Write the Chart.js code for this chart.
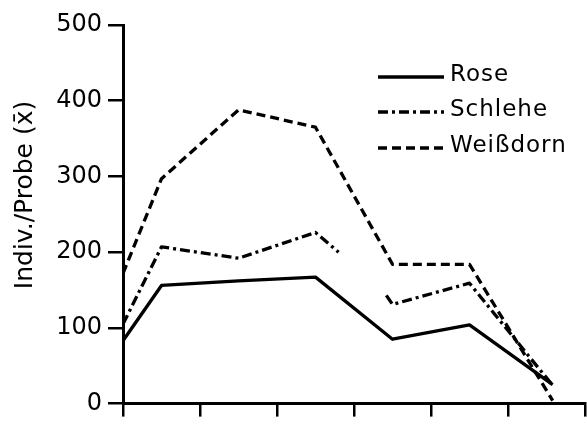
<!DOCTYPE html>
<html>
<head>
<meta charset="utf-8">
<script src="https://cdn.jsdelivr.net/npm/chart.js@4"></script>
<style>
  html, body { margin: 0; padding: 0; background: #fff; }
  #wrap { width: 587px; height: 424px; }
</style>
</head>
<body>
<div id="wrap"><canvas id="c" width="587" height="424"></canvas></div>
<script>
// Sampling positions along the x axis (in tick units, 0..6)
const xPos = [0, 0.5, 1.5, 2.5, 3.5, 4.5, 5.58];
// Mean individuals per sample
const rose = [83, 156, 162, 167, 85, 104, 25];
const weissdorn = [172, 297, 388, 365, 184, 184, 4];
// Schlehe has a break in its line between the two segments
const schleheX = [0, 0.5, 1.5, 2.5, 2.8, 3.1, 3.42, 3.5, 4.5, 5.58];
const schlehe = [105, 207, 192, 226, 200, null, 143, 131, 159, 24];

const seriesNames = ['Rose', 'Schlehe', 'Weißdorn'];
const yTicks = [0, 100, 200, 300, 400, 500];
const yTitle = 'Indiv./Probe (x\u0304)';

const FONT = 'DejaVu Sans';

function pts(xs, ys) {
  return xs.map((x, i) => ({ x: x, y: ys[i] }));
}

const dashes = [[], [10, 4, 3, 4], [9, 5]];

// Legend and vertical axis title drawn straight onto the canvas
const annotations = {
  id: 'annotations',
  afterDraw(chart) {
    const ctx = chart.ctx;
    const x0 = 378, x1 = 444, tx = 450;
    const rows = [77, 112, 148];
    ctx.save();
    chart.data.datasets.forEach((ds, i) => {
      const y = rows[i];
      ctx.strokeStyle = '#000';
      ctx.lineWidth = 3.3;
      ctx.setLineDash(ds.borderDash || []);
      ctx.beginPath();
      ctx.moveTo(x0, y);
      ctx.lineTo(x1, y);
      ctx.stroke();
      ctx.setLineDash([]);
      ctx.fillStyle = '#000';
      ctx.font = '23px "' + FONT + '"';
      ctx.letterSpacing = '1px';
      ctx.textBaseline = 'middle';
      ctx.textAlign = 'left';
      ctx.fillText(ds.label, tx, y - 2);
    });
    // axis title
    ctx.translate(25, 195);
    ctx.rotate(-Math.PI / 2);
    ctx.font = '25px "' + FONT + '"';
    ctx.letterSpacing = '0px';
    ctx.textAlign = 'center';
    ctx.textBaseline = 'middle';
    ctx.fillText(yTitle, 0, 0);
    ctx.restore();
  }
};

const common = {
  borderColor: '#000',
  borderWidth: 3.3,
  pointRadius: 0,
  tension: 0,
  fill: false,
  spanGaps: false,
  borderJoinStyle: 'round'
};

new Chart(document.getElementById('c'), {
  type: 'line',
  data: {
    datasets: [
      Object.assign({ label: seriesNames[0], data: pts(xPos, rose), borderDash: dashes[0] }, common),
      Object.assign({ label: seriesNames[1], data: pts(schleheX, schlehe), borderDash: dashes[1] }, common),
      Object.assign({ label: seriesNames[2], data: pts(xPos, weissdorn), borderDash: dashes[2] }, common)
    ]
  },
  options: {
    responsive: false,
    animation: false,
    layout: { padding: { left: 0, top: 25, right: 2, bottom: 0 } },
    plugins: { legend: { display: false }, tooltip: { enabled: false } },
    scales: {
      x: {
        type: 'linear',
        min: 0,
        max: 6,
        ticks: { display: false, stepSize: 1 },
        grid: { drawOnChartArea: false, drawTicks: true, tickLength: 13, color: '#000', lineWidth: 2.5 },
        border: { display: true, color: '#000', width: 3 },
        afterFit(s) { s.height = 17; }
      },
      y: {
        type: 'linear',
        min: 0,
        max: 500,
        afterBuildTicks(s) { s.ticks = yTicks.map(v => ({ value: v })); },
        ticks: { color: '#000', font: { family: FONT, size: 24 }, padding: 6 },
        grid: { drawOnChartArea: false, drawTicks: true, tickLength: 15, color: '#000', lineWidth: 2.5 },
        border: { display: true, color: '#000', width: 3 },
        title: { display: false },
        afterFit(s) { s.width = 123; }
      }
    }
  },
  plugins: [annotations]
});
</script>
</body>
</html>
